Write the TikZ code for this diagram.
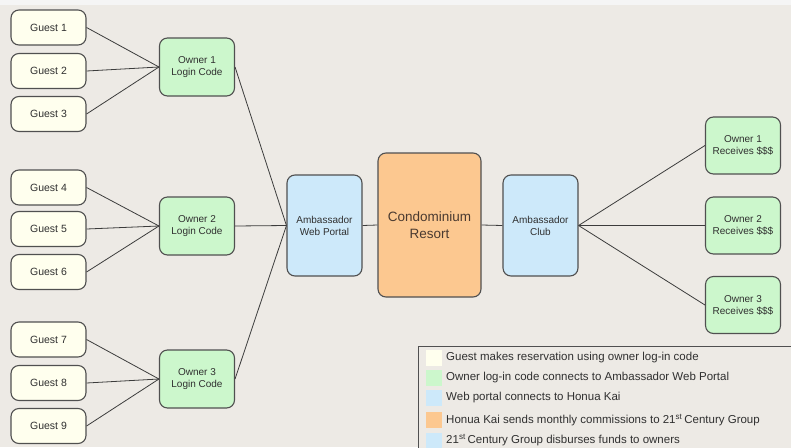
\documentclass[tikz,border=0pt]{standalone}
\usepackage{fontspec}
\setmainfont{Liberation Sans}
\definecolor{bgc}{HTML}{EDEAE5}
\definecolor{topc}{HTML}{F5F5F5}
\definecolor{guestc}{HTML}{FFFFEE}
\definecolor{greenc}{HTML}{CCF7CC}
\definecolor{bluec}{HTML}{CDE9FA}
\definecolor{orangec}{HTML}{FCC890}
\definecolor{edgec}{HTML}{505050}
\definecolor{linec}{HTML}{3C3C3C}
\definecolor{textc}{HTML}{303030}
\definecolor{condotext}{HTML}{4A3A30}
\tikzset{
  box/.style={draw=edgec, line width=1.1pt, rounded corners=8pt, align=center, text=textc, inner sep=0pt},
  guest/.style={box, fill=guestc, minimum width=75pt, minimum height=35pt, font=\fontsize{10.5}{12}\selectfont},
  owner/.style={box, fill=greenc, minimum width=75pt, minimum height=58pt, font=\fontsize{10}{12}\selectfont},
  portal/.style={box, fill=bluec, minimum width=75pt, minimum height=101pt, font=\fontsize{10}{12}\selectfont},
  condo/.style={box, fill=orangec, text=condotext, minimum width=103pt, minimum height=144pt, font=\fontsize{13.5}{17}\selectfont},
  conn/.style={draw=linec, line width=0.8pt},
  swatch/.style={fill=#1, minimum width=16pt, minimum height=16pt, inner sep=0pt},
  legtext/.style={anchor=west, text=textc, font=\fontsize{11.5}{13}\selectfont, inner sep=0pt}
}
\begin{document}
\begin{tikzpicture}[x=1pt,y=-1pt]
\useasboundingbox (0,0) rectangle (791,447);
\fill[bgc] (0,0) rectangle (791,447);
\fill[topc] (0,0) rectangle (791,5);
% guests
\node[guest] (g1) at (48.5,27.5) {Guest 1};
\node[guest] (g2) at (48.5,71) {Guest 2};
\node[guest] (g3) at (48.5,114) {Guest 3};
\node[guest] (g4) at (48.5,187.5) {Guest 4};
\node[guest] (g5) at (48.5,229) {Guest 5};
\node[guest] (g6) at (48.5,272) {Guest 6};
\node[guest] (g7) at (48.5,339.5) {Guest 7};
\node[guest] (g8) at (48.5,383) {Guest 8};
\node[guest] (g9) at (48.5,426) {Guest 9};
% owner login codes
\node[owner] (o1) at (197,67) {Owner 1\\Login Code};
\node[owner] (o2) at (197,226) {Owner 2\\Login Code};
\node[owner] (o3) at (197,379) {Owner 3\\Login Code};
% center
\node[portal] (wp) at (324.5,225.5) {Ambassador\\Web Portal};
\node[condo] (cr) at (429.5,225) {Condominium\\Resort};
\node[portal] (ac) at (540.5,225.5) {Ambassador\\Club};
% right owners
\node[owner, minimum height=57pt] (r1) at (743,145.5) {Owner 1\\Receives \$\$\$};
\node[owner, minimum height=57pt] (r2) at (743,225.5) {Owner 2\\Receives \$\$\$};
\node[owner, minimum height=57pt] (r3) at (743,305) {Owner 3\\Receives \$\$\$};
% connectors
\foreach \g in {g1,g2,g3} \draw[conn] (\g.east) -- (o1.west);
\foreach \g in {g4,g5,g6} \draw[conn] (\g.east) -- (o2.west);
\foreach \g in {g7,g8,g9} \draw[conn] (\g.east) -- (o3.west);
\foreach \o in {o1,o2,o3} \draw[conn] (\o.east) -- (wp.west);
\draw[conn] (wp.east) -- (cr.west);
\draw[conn] (cr.east) -- (ac.west);
\foreach \r in {r1,r2,r3} \draw[conn] (ac.east) -- (\r.west);
% legend
\draw[draw=edgec, line width=0.9pt, fill=bgc] (418,346) rectangle (800,470);
\node[swatch=guestc] (s1) at (434,358) {};
\node[swatch=greenc] (s2) at (434,378) {};
\node[swatch=bluec] (s3) at (434,398) {};
\node[swatch=orangec] (s4) at (434,420) {};
\node[swatch=bluec] (s5) at (434,441) {};
\node[legtext] (l1) at (446,358) {Guest makes reservation using owner log-in code};
\node[legtext] (l2) at (446,378) {Owner log-in code connects to Ambassador Web Portal};
\node[legtext] (l3) at (446,398) {Web portal connects to Honua Kai};
\node[legtext] (l4) at (446,420) {Honua Kai sends monthly commissions to 21\textsuperscript{st}\,Century Group};
\node[legtext] (l5) at (446,440) {21\textsuperscript{st}\,Century Group disburses funds to owners};
\end{tikzpicture}
\end{document}
